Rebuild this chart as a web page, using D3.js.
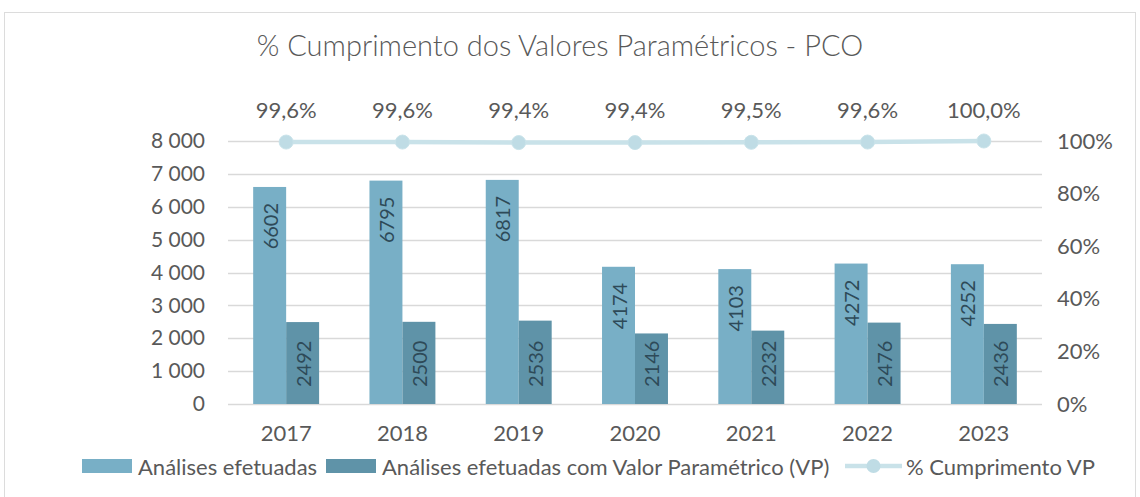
<!DOCTYPE html>
<html><head><meta charset="utf-8">
<script src="https://cdn.jsdelivr.net/npm/d3@7"></script>
<style>body{margin:0;background:#fff}svg{display:block}text{font-family:Lato,"Noto Sans",sans-serif}</style>
</head><body><svg id="c" width="1140" height="497"></svg>
<script>
const years = ["2017","2018","2019","2020","2021","2022","2023"];
const analises = [6602,6795,6817,4174,4103,4272,4252];
const analisesVP = [2492,2500,2536,2146,2232,2476,2436];
const cumprimento = [99.6,99.6,99.4,99.4,99.5,99.6,100.0];
const leftTicks = [0,1000,2000,3000,4000,5000,6000,7000,8000];
const rightTicks = [0,20,40,60,80,100];
const seriesNames = ["Análises efetuadas","Análises efetuadas com Valor Paramétrico (VP)","% Cumprimento VP"];
const title = "% Cumprimento dos Valores Paramétricos - PCO";

const C1 = "#78afc6", C2 = "#5f93a8", CL = "#c9e2e9", CM = "#bfdce5";
const TXT = "#595959", LBL = "#2e4a58", GRID = "#d9d9d9";

const loc = d3.formatLocale({decimal:",", thousands:"\u00a0", grouping:[3], currency:["",""]});
const fmtK = loc.format(",d");
const fmtP = loc.format(".1f");

const svg = d3.select("#c");
svg.append("rect").attr("x",4.5).attr("y",12.5).attr("width",1131).attr("height",490)
  .attr("fill","none").attr("stroke","#dcdcdc");

const x = d3.scaleBand().domain(years).range([228,1042]).paddingInner(0.433).paddingOuter(0.2165);
const x1 = d3.scaleBand().domain([0,1]).range([0,x.bandwidth()]);
const y = d3.scaleLinear().domain([0,8000]).range([404,141]);
const y2 = d3.scaleLinear().domain([0,100]).range([404,141]);

// title
svg.append("text").attr("x",560).attr("y",56).attr("text-anchor","middle")
  .attr("font-size",29).attr("font-weight",300).attr("fill",TXT).text(title);

// gridlines
svg.append("g").selectAll("line").data(leftTicks).join("line")
  .attr("x1",228).attr("x2",1042).attr("y1",d=>Math.round(y(d))+0.5).attr("y2",d=>Math.round(y(d))+0.5)
  .attr("stroke",GRID).attr("stroke-width",1.3);

// left axis
const ga = svg.append("g").attr("transform","translate(218,0)")
  .call(d3.axisLeft(y).tickValues(leftTicks).tickFormat(fmtK).tickSize(0).tickPadding(13));
ga.select(".domain").remove();
ga.selectAll("text").attr("font-size",21).attr("fill",TXT).attr("font-family","Lato");

// right axis
const gr = svg.append("g").attr("transform","translate(1045,0)")
  .call(d3.axisRight(y2).tickValues(rightTicks).tickFormat(d=>d+"%").tickSize(0).tickPadding(12));
gr.select(".domain").remove();
gr.selectAll("text").attr("font-size",22).attr("fill",TXT).attr("font-family","Lato");

// x axis
const gx = svg.append("g").attr("transform","translate(0,404)")
  .call(d3.axisBottom(x).tickSize(0).tickPadding(21));
gx.select(".domain").remove();
gx.selectAll("text").attr("font-size",22).attr("fill",TXT).attr("font-family","Lato");

// bars
const groups = svg.append("g").selectAll("g").data(years).join("g")
  .attr("transform",d=>`translate(${x(d)},0)`);
groups.append("rect").attr("x",x1(0)).attr("width",x1.bandwidth())
  .attr("y",(d,i)=>y(analises[i])).attr("height",(d,i)=>y(0)-y(analises[i])).attr("fill",C1);
groups.append("rect").attr("x",x1(1)).attr("width",x1.bandwidth())
  .attr("y",(d,i)=>y(analisesVP[i])).attr("height",(d,i)=>y(0)-y(analisesVP[i])).attr("fill",C2);

// bar labels
groups.append("text")
  .attr("transform",(d,i)=>`translate(${x1(0)+x1.bandwidth()/2},${y(analises[i])+16}) rotate(-90)`)
  .attr("text-anchor","end").attr("dominant-baseline","central")
  .attr("font-size",20).attr("fill",LBL).text((d,i)=>analises[i]);
groups.append("text")
  .attr("transform",(d,i)=>`translate(${x1(1)+x1.bandwidth()/2},${y(0)-17}) rotate(-90)`)
  .attr("text-anchor","start").attr("dominant-baseline","central")
  .attr("font-size",20).attr("fill",LBL).text((d,i)=>analisesVP[i]);

// line
const cx = d => x(d)+x.bandwidth()/2;
svg.append("path").datum(years)
  .attr("d",d3.line().x(cx).y((d,i)=>y2(cumprimento[i])))
  .attr("fill","none").attr("stroke",CL).attr("stroke-width",4.5);
svg.append("g").selectAll("circle").data(years).join("circle")
  .attr("cx",cx).attr("cy",(d,i)=>y2(cumprimento[i])).attr("r",7)
  .attr("fill",CM).attr("stroke","#c9e3ea").attr("stroke-width",1);

// percent labels
svg.append("g").selectAll("text").data(years).join("text")
  .attr("x",cx).attr("y",118).attr("text-anchor","middle")
  .attr("font-size",22).attr("fill",TXT).text((d,i)=>fmtP(cumprimento[i])+"%");

// legend
const lg = svg.append("g");
const ly = 466;
lg.append("rect").attr("x",82).attr("y",ly-7).attr("width",50).attr("height",14).attr("fill",C1);
lg.append("text").attr("x",138).attr("y",ly).attr("dominant-baseline","central")
  .attr("font-size",22).attr("fill",TXT).text(seriesNames[0]);
lg.append("rect").attr("x",326).attr("y",ly-7).attr("width",50).attr("height",14).attr("fill",C2);
lg.append("text").attr("x",382).attr("y",ly).attr("dominant-baseline","central")
  .attr("font-size",22).attr("fill",TXT).text(seriesNames[1]);
lg.append("line").attr("x1",845).attr("x2",902).attr("y1",ly).attr("y2",ly)
  .attr("stroke",CL).attr("stroke-width",4.5);
lg.append("circle").attr("cx",873.5).attr("cy",ly).attr("r",7).attr("fill",CM);
lg.append("text").attr("x",906).attr("y",ly).attr("dominant-baseline","central")
  .attr("font-size",22).attr("fill",TXT).text(seriesNames[2]);
</script></body></html>
